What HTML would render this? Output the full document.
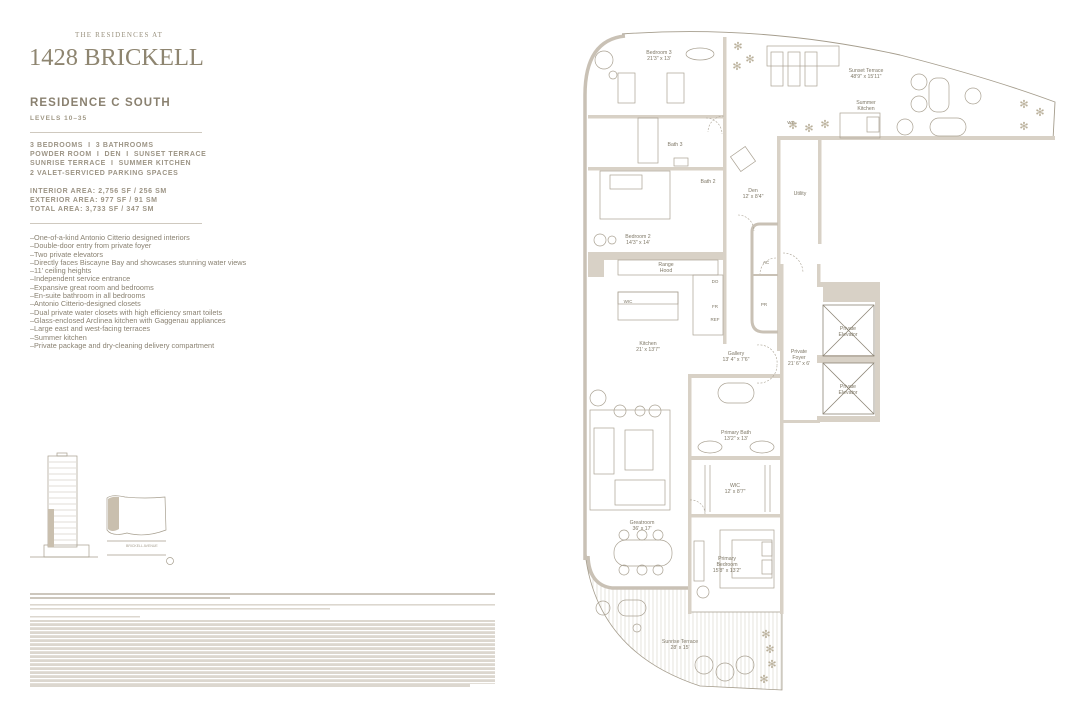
<!DOCTYPE html>
<html><head><meta charset="utf-8"><style>
html,body{margin:0;padding:0;background:#fff;}
body{width:1080px;height:720px;position:relative;overflow:hidden;font-family:"Liberation Sans",sans-serif;color:#8f8674;}
.a{position:absolute;white-space:nowrap;}
.sp{font-size:7px;font-weight:bold;letter-spacing:0.6px;line-height:9.2px;color:#9c9485;}
.bl{font-size:7.3px;line-height:8.3px;color:#8a8272;}
.hr{position:absolute;left:30px;width:172px;height:1px;background:#cfc9bf;}
</style></head><body>
<div class="a" style="left:75px;top:31px;font-family:'Liberation Serif',serif;font-size:7px;letter-spacing:1.2px;color:#9a927f">THE RESIDENCES AT</div>
<div class="a" style="left:29px;top:44px;font-family:'Liberation Serif',serif;font-size:24.5px;letter-spacing:0px;color:#8e8570">1428 BRICKELL</div>
<div class="a" style="left:30px;top:97px;font-size:11.5px;font-weight:bold;letter-spacing:1.1px;color:#8a8170">RESIDENCE C SOUTH</div>
<div class="a" style="left:30px;top:115px;font-size:6.5px;font-weight:bold;letter-spacing:1px;color:#a09886">LEVELS 10–35</div>
<div class="hr" style="top:132px"></div>
<div class="a sp" style="left:30px;top:141px">3 BEDROOMS &nbsp;I&nbsp; 3 BATHROOMS<br>POWDER ROOM &nbsp;I&nbsp; DEN &nbsp;I&nbsp; SUNSET TERRACE<br>SUNRISE TERRACE &nbsp;I&nbsp; SUMMER KITCHEN<br>2 VALET-SERVICED PARKING SPACES</div>
<div class="a sp" style="left:30px;top:187px">INTERIOR AREA: 2,756 SF / 256 SM<br>EXTERIOR AREA: 977 SF / 91 SM<br>TOTAL AREA: 3,733 SF / 347 SM</div>
<div class="hr" style="top:223px"></div>
<div class="a bl" style="left:30px;top:234px">–One-of-a-kind Antonio Citterio designed interiors<br>–Double-door entry from private foyer<br>–Two private elevators<br>–Directly faces Biscayne Bay and showcases stunning water views<br>–11' ceiling heights<br>–Independent service entrance<br>–Expansive great room and bedrooms<br>–En-suite bathroom in all bedrooms<br>–Antonio Citterio-designed closets<br>–Dual private water closets with high efficiency smart toilets<br>–Glass-enclosed Arclinea kitchen with Gaggenau appliances<br>–Large east and west-facing terraces<br>–Summer kitchen<br>–Private package and dry-cleaning delivery compartment</div>

<svg class="a" style="left:0;top:0" width="1080" height="720" viewBox="0 0 1080 720">
<defs><pattern id="h" width="4" height="10" patternUnits="userSpaceOnUse"><line x1="1" y1="0" x2="1" y2="10" stroke="#d6d1c8" stroke-width="0.6"/></pattern></defs>
<g stroke="#a69e8e" fill="none" stroke-width="0.7">
<rect x="48" y="456" width="29" height="91"/>
<rect x="57" y="453" width="10" height="3"/>
<rect x="44" y="545" width="45" height="12"/>
<line x1="30" y1="557" x2="98" y2="557"/>
<path d="M107 498 Q112 494 125 497 Q145 499 165 497 L166 530 Q145 538 127 533 Q112 537 107 530 Z"/>
<line x1="107" y1="541" x2="166" y2="541"/><line x1="107" y1="555" x2="166" y2="555"/>
<circle cx="170" cy="561" r="3.5"/>
</g>
<g stroke="#c2bbaf" stroke-width="0.5">
<line x1="49" y1="462" x2="76" y2="462"/><line x1="49" y1="468" x2="76" y2="468"/><line x1="49" y1="474" x2="76" y2="474"/><line x1="49" y1="480" x2="76" y2="480"/><line x1="49" y1="486" x2="76" y2="486"/><line x1="49" y1="492" x2="76" y2="492"/><line x1="49" y1="498" x2="76" y2="498"/><line x1="49" y1="504" x2="76" y2="504"/><line x1="49" y1="510" x2="76" y2="510"/><line x1="49" y1="516" x2="76" y2="516"/><line x1="49" y1="522" x2="76" y2="522"/><line x1="49" y1="528" x2="76" y2="528"/><line x1="49" y1="534" x2="76" y2="534"/><line x1="49" y1="540" x2="76" y2="540"/>
</g>
<rect x="48" y="509" width="6" height="38" fill="#c9bfae"/>
<path d="M108 499 Q112 496 119 497 L119 529 Q112 533 108 529Z" fill="#c9bfae"/>
<text x="126" y="547" font-size="3.5" fill="#a69e8e" font-family="Liberation Sans">BRICKELL AVENUE</text>
<g fill="#cdc7bd">
<rect x="30" y="593" width="465" height="2"/><rect x="30" y="597" width="200" height="2"/>
</g>
<g fill="#dcd7cf">
<rect x="30" y="604" width="465" height="1.6"/><rect x="30" y="608" width="300" height="1.6"/>
<rect x="30" y="616" width="110" height="1.5"/>
<rect x="30" y="620" width="465" height="67"/>
</g>
<g fill="#fff"><rect x="30" y="622" width="465" height="1.2"/><rect x="30" y="626" width="465" height="1.2"/><rect x="30" y="630" width="465" height="1.2"/><rect x="30" y="634" width="465" height="1.2"/><rect x="30" y="638" width="465" height="1.2"/><rect x="30" y="642" width="465" height="1.2"/><rect x="30" y="646" width="465" height="1.2"/><rect x="30" y="650" width="465" height="1.2"/><rect x="30" y="654" width="465" height="1.2"/><rect x="30" y="658" width="465" height="1.2"/><rect x="30" y="662" width="465" height="1.2"/><rect x="30" y="666" width="465" height="1.2"/><rect x="30" y="670" width="465" height="1.2"/><rect x="30" y="674" width="465" height="1.2"/><rect x="30" y="678" width="465" height="1.2"/><rect x="30" y="682" width="465" height="1.2"/><rect x="470" y="684" width="25" height="3"/></g>

<path d="M584 540 Q590 650 700 686 L782 690 L782 612 L690 612 L690 588 L612 588 Q588 584 587 560 Z" fill="url(#h)" stroke="#a59d8d" stroke-width="0.8"/>
<g fill="none" stroke="#c9c1b5" stroke-width="3.5">
<path d="M585 560 L585 95 Q585 40 625 36"/>
<path d="M588 556 Q589 585 612 588 L690 588"/>
</g>
<path d="M622 34 Q760 24 900 55 Q990 78 1055 102 L1053 140" fill="none" stroke="#a59d8d" stroke-width="0.9"/>
<g fill="#d8d1c6">
<rect x="777" y="136" width="278" height="4"/>
<rect x="723" y="37" width="3.5" height="215"/>
<rect x="588" y="115" width="137" height="3.5"/>
<rect x="588" y="167" width="137" height="3.5"/>
<rect x="588" y="252" width="137" height="8"/>
<rect x="588" y="252" width="16" height="25"/>
<rect x="723" y="252" width="3.5" height="92"/>
<rect x="777" y="136" width="3.5" height="215"/>
<rect x="818" y="136" width="3.5" height="108"/>
<rect x="690" y="374" width="92" height="4" rx="2"/>
<rect x="688" y="374" width="3.5" height="240"/>
<rect x="780" y="374" width="3.5" height="240"/>
<rect x="690" y="456" width="92" height="4"/>
<rect x="690" y="514" width="92" height="3.5"/>
<rect x="780" y="264" width="3.5" height="110"/>
<rect x="817" y="264" width="3.5" height="20"/>
<path d="M817 282 L880 282 L880 422 L817 422 L817 416 L875 416 L875 302 L823 302 L823 287 L817 287Z"/>
<rect x="780" y="420" width="40" height="3"/>
<rect x="817" y="355" width="58" height="8"/>
</g>
<g fill="none" stroke="#8d8576" stroke-width="0.8">
<rect x="823" y="305" width="51" height="51"/><line x1="823" y1="305" x2="874" y2="356"/><line x1="874" y1="305" x2="823" y2="356"/>
<rect x="823" y="363" width="51" height="51"/><line x1="823" y1="363" x2="874" y2="414"/><line x1="874" y1="363" x2="823" y2="414"/>
</g>
<path d="M778 224 L760 224 Q752 224 752 232 L752 320 Q752 332 764 332 L778 332" fill="none" stroke="#c9c1b5" stroke-width="3"/>
<line x1="753" y1="275" x2="778" y2="275" stroke="#c9c1b5" stroke-width="2"/>
<g fill="none" stroke="#aaa293" stroke-width="0.7">
<rect x="767" y="46" width="72" height="20"/>
<rect x="771" y="52" width="12" height="34"/><rect x="788" y="52" width="12" height="34"/><rect x="805" y="52" width="12" height="34"/>
<rect x="840" y="113" width="40" height="25"/><rect x="867" y="117" width="12" height="15"/>
<circle cx="919" cy="82" r="8"/><circle cx="919" cy="104" r="8"/><circle cx="973" cy="96" r="8"/><circle cx="905" cy="127" r="8"/>
<rect x="929" y="78" width="20" height="34" rx="8"/><rect x="930" y="118" width="36" height="18" rx="9"/>
<rect x="618" y="73" width="17" height="30"/><rect x="667" y="73" width="17" height="30"/>
<ellipse cx="700" cy="54" rx="14" ry="6"/><circle cx="604" cy="60" r="9"/><circle cx="613" cy="75" r="4"/>
<rect x="638" y="118" width="20" height="45"/><rect x="674" y="158" width="14" height="8"/>
<rect x="600" y="171" width="70" height="48"/><rect x="610" y="175" width="32" height="14"/>
<circle cx="600" cy="240" r="6"/><circle cx="612" cy="240" r="4"/>
<rect x="618" y="260" width="100" height="15"/>
<rect x="618" y="292" width="60" height="28"/><rect x="618" y="292" width="60" height="12"/>
<rect x="693" y="275" width="30" height="60"/>
<rect x="734" y="150" width="18" height="18" transform="rotate(-35 743 159)"/>
<rect x="590" y="410" width="80" height="100"/><rect x="594" y="428" width="20" height="46"/><rect x="625" y="430" width="28" height="40"/><rect x="615" y="480" width="50" height="25"/>
<circle cx="598" cy="398" r="8"/><circle cx="620" cy="411" r="6"/><circle cx="640" cy="411" r="5"/><circle cx="655" cy="411" r="6"/>
<rect x="614" y="540" width="58" height="26" rx="12"/>
<circle cx="624" cy="535" r="5"/><circle cx="642" cy="535" r="5"/><circle cx="658" cy="535" r="5"/>
<circle cx="624" cy="570" r="5"/><circle cx="642" cy="570" r="5"/><circle cx="658" cy="570" r="5"/>
<rect x="720" y="530" width="54" height="58"/><rect x="732" y="540" width="40" height="38"/><rect x="762" y="542" width="10" height="14"/><rect x="762" y="560" width="10" height="14"/>
<rect x="694" y="541" width="10" height="40"/><circle cx="703" cy="592" r="6"/>
<rect x="718" y="383" width="36" height="20" rx="10"/><ellipse cx="710" cy="447" rx="12" ry="6"/><ellipse cx="762" cy="447" rx="12" ry="6"/>
<line x1="705" y1="465" x2="705" y2="512"/><line x1="710" y1="465" x2="710" y2="512"/><line x1="765" y1="465" x2="765" y2="512"/><line x1="770" y1="465" x2="770" y2="512"/>
<circle cx="603" cy="608" r="7"/><rect x="618" y="600" width="28" height="16" rx="8"/><circle cx="637" cy="628" r="4"/>
<circle cx="704" cy="665" r="9"/><circle cx="725" cy="672" r="9"/><circle cx="745" cy="665" r="9"/>
</g>
<g stroke="#aaa293" stroke-width="0.6" fill="none" stroke-dasharray="2 1.5">
<path d="M706 118 A16 16 0 0 1 722 134"/><path d="M724 116 A16 16 0 0 0 708 132"/>
<path d="M738 215 A16 16 0 0 1 754 231"/><path d="M776 258 A16 16 0 0 0 760 274"/>
<path d="M783 253 A20 20 0 0 1 803 273"/><path d="M690 500 A14 14 0 0 1 705 514"/>
<path d="M757 383 A18 18 0 0 0 777 365"/><path d="M757 345 A18 18 0 0 1 777 365"/>
</g>
<g font-family="Liberation Sans" font-size="5.2" fill="#7f7867" text-anchor="middle">
<text x="659" y="54">Bedroom 3</text><text x="659" y="60">21'3" x 13'</text>
<text x="675" y="146">Bath 3</text><text x="708" y="183">Bath 2</text>
<text x="753" y="192">Den</text><text x="753" y="198">12' x 8'4"</text>
<text x="800" y="195">Utility</text><text x="791" y="124" font-size="4.5">WD</text>
<text x="866" y="72">Sunset Terrace</text><text x="866" y="78">48'9" x 15'11"</text>
<text x="866" y="104">Summer</text><text x="866" y="110">Kitchen</text>
<text x="638" y="238">Bedroom 2</text><text x="638" y="244">14'3" x 14'</text>
<text x="666" y="266">Range</text><text x="666" y="272">Hood</text>
<text x="628" y="303" font-size="4.5">WIC</text>
<text x="715" y="283" font-size="4.5">DO</text><text x="715" y="308" font-size="4.5">FR</text><text x="715" y="321" font-size="4.5">REF</text>
<text x="766" y="264" font-size="4.5">AC</text><text x="764" y="306" font-size="4.5">PR</text>
<text x="648" y="345">Kitchen</text><text x="648" y="351">21' x 13'7"</text>
<text x="736" y="355">Gallery</text><text x="736" y="361">13' 4" x 7'6"</text>
<text x="799" y="353">Private</text><text x="799" y="359">Foyer</text><text x="799" y="365">21' 6" x 6'</text>
<text x="848" y="330">Private</text><text x="848" y="336">Elevator</text>
<text x="848" y="388">Private</text><text x="848" y="394">Elevator</text>
<text x="736" y="434">Primary Bath</text><text x="736" y="440">13'2" x 13'</text>
<text x="735" y="487">WIC</text><text x="735" y="493">12' x 8'7"</text>
<text x="727" y="560">Primary</text><text x="727" y="566">Bedroom</text><text x="727" y="572">15'8" x 13'2"</text>
<text x="642" y="524">Greatroom</text><text x="642" y="530">36' x 17'</text>
<text x="680" y="643">Sunrise Terrace</text><text x="680" y="649">28' x 15'</text>
</g>
<g fill="#b8ae98" font-size="11" font-family="DejaVu Sans" text-anchor="middle">
<text x="738" y="50">✻</text><text x="750" y="63">✻</text><text x="737" y="70">✻</text>
<text x="793" y="129">✻</text><text x="809" y="132">✻</text><text x="825" y="128">✻</text>
<text x="1024" y="108">✻</text><text x="1040" y="116">✻</text><text x="1024" y="130">✻</text>
<text x="766" y="638">✻</text><text x="770" y="653">✻</text><text x="772" y="668">✻</text><text x="764" y="683">✻</text>
</g>
</svg>
</body></html>
